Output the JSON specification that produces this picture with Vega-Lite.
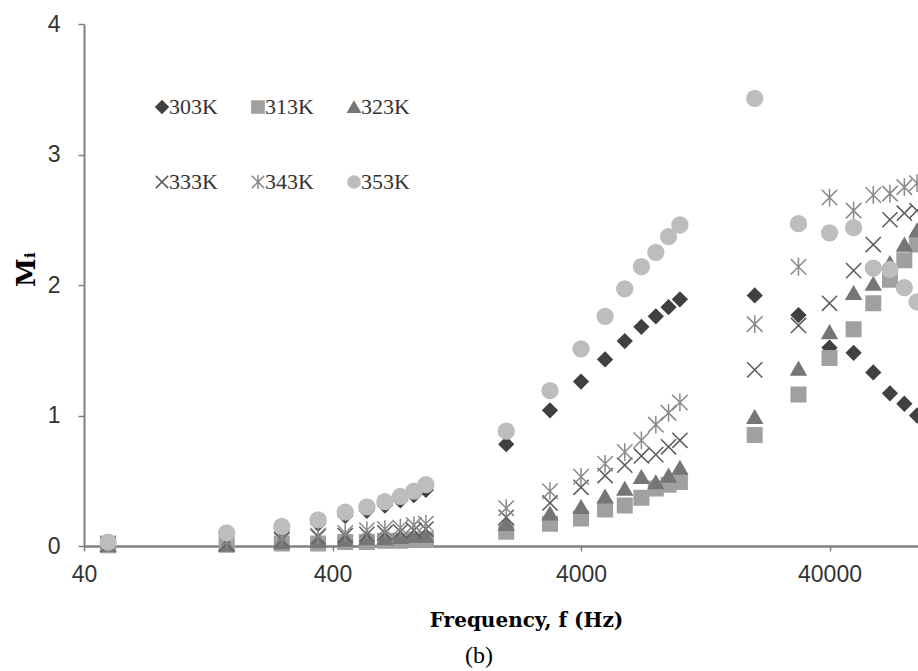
{
  "$schema": "https://vega.github.io/schema/vega-lite/v6.json",
  "width": 834,
  "height": 522,
  "autosize": {"type": "none"},
  "padding": {"left": 84, "top": 24, "right": 0, "bottom": 125},
  "background": "white",
  "config": {
    "view": {"stroke": null},
    "axis": {"grid": false, "labelFlush": false, "labelOverlap": false},
    "legend": {"orient": "none", "legendX": 67, "legendY": 72, "direction": "horizontal", "columns": 3, "labelFont": "Liberation Serif", "labelFontSize": 22, "labelColor": "#333333", "symbolSize": 150, "columnPadding": 29, "rowPadding": 53, "labelOffset": -4, "symbolStrokeWidth": 1.5}
  },
  "title": {
    "text": "(b)",
    "orient": "bottom",
    "anchor": "start",
    "frame": "group",
    "dx": 381,
    "offset": 14,
    "font": "Liberation Serif",
    "fontSize": 24,
    "fontWeight": "normal",
    "color": "#000000"
  },
  "layer": [
    {
      "mark": {"type": "rule", "color": "#555555", "strokeWidth": 2},
      "encoding": {"y": {"datum": 4, "type": "quantitative"}}
    },
    {
      "data": {
        "values": [
          {"f":50,"M":0.01,"T":"303K"},{"f":150,"M":0.03,"T":"303K"},{"f":250,"M":0.10,"T":"303K"},{"f":350,"M":0.17,"T":"303K"},{"f":450,"M":0.23,"T":"303K"},{"f":550,"M":0.27,"T":"303K"},{"f":650,"M":0.31,"T":"303K"},{"f":750,"M":0.35,"T":"303K"},{"f":850,"M":0.39,"T":"303K"},{"f":950,"M":0.43,"T":"303K"},
          {"f":2000,"M":0.78,"T":"303K"},{"f":3000,"M":1.04,"T":"303K"},{"f":4000,"M":1.26,"T":"303K"},{"f":5000,"M":1.43,"T":"303K"},{"f":6000,"M":1.57,"T":"303K"},{"f":7000,"M":1.68,"T":"303K"},{"f":8000,"M":1.76,"T":"303K"},{"f":9000,"M":1.83,"T":"303K"},{"f":10000,"M":1.89,"T":"303K"},
          {"f":20000,"M":1.92,"T":"303K"},{"f":30000,"M":1.77,"T":"303K"},{"f":40000,"M":1.52,"T":"303K"},{"f":50000,"M":1.48,"T":"303K"},{"f":60000,"M":1.33,"T":"303K"},{"f":70000,"M":1.17,"T":"303K"},{"f":80000,"M":1.09,"T":"303K"},{"f":90000,"M":1.00,"T":"303K"},

          {"f":50,"M":0.005,"T":"313K"},{"f":150,"M":0.01,"T":"313K"},{"f":250,"M":0.02,"T":"313K"},{"f":350,"M":0.02,"T":"313K"},{"f":450,"M":0.03,"T":"313K"},{"f":550,"M":0.03,"T":"313K"},{"f":650,"M":0.04,"T":"313K"},{"f":750,"M":0.04,"T":"313K"},{"f":850,"M":0.05,"T":"313K"},{"f":950,"M":0.05,"T":"313K"},
          {"f":2000,"M":0.11,"T":"313K"},{"f":3000,"M":0.17,"T":"313K"},{"f":4000,"M":0.21,"T":"313K"},{"f":5000,"M":0.28,"T":"313K"},{"f":6000,"M":0.31,"T":"313K"},{"f":7000,"M":0.37,"T":"313K"},{"f":8000,"M":0.44,"T":"313K"},{"f":9000,"M":0.47,"T":"313K"},{"f":10000,"M":0.49,"T":"313K"},
          {"f":20000,"M":0.85,"T":"313K"},{"f":30000,"M":1.16,"T":"313K"},{"f":40000,"M":1.44,"T":"313K"},{"f":50000,"M":1.66,"T":"313K"},{"f":60000,"M":1.86,"T":"313K"},{"f":70000,"M":2.04,"T":"313K"},{"f":80000,"M":2.19,"T":"313K"},{"f":90000,"M":2.31,"T":"313K"},

          {"f":50,"M":0.01,"T":"323K"},{"f":150,"M":0.01,"T":"323K"},{"f":250,"M":0.03,"T":"323K"},{"f":350,"M":0.04,"T":"323K"},{"f":450,"M":0.05,"T":"323K"},{"f":550,"M":0.06,"T":"323K"},{"f":650,"M":0.06,"T":"323K"},{"f":750,"M":0.07,"T":"323K"},{"f":850,"M":0.08,"T":"323K"},{"f":950,"M":0.08,"T":"323K"},
          {"f":2000,"M":0.17,"T":"323K"},{"f":3000,"M":0.25,"T":"323K"},{"f":4000,"M":0.30,"T":"323K"},{"f":5000,"M":0.38,"T":"323K"},{"f":6000,"M":0.44,"T":"323K"},{"f":7000,"M":0.53,"T":"323K"},{"f":8000,"M":0.49,"T":"323K"},{"f":9000,"M":0.54,"T":"323K"},{"f":10000,"M":0.60,"T":"323K"},
          {"f":20000,"M":0.99,"T":"323K"},{"f":30000,"M":1.36,"T":"323K"},{"f":40000,"M":1.64,"T":"323K"},{"f":50000,"M":1.94,"T":"323K"},{"f":60000,"M":2.01,"T":"323K"},{"f":70000,"M":2.17,"T":"323K"},{"f":80000,"M":2.31,"T":"323K"},{"f":90000,"M":2.42,"T":"323K"},

          {"f":50,"M":0.01,"T":"333K"},{"f":150,"M":0.02,"T":"333K"},{"f":250,"M":0.05,"T":"333K"},{"f":350,"M":0.07,"T":"333K"},{"f":450,"M":0.08,"T":"333K"},{"f":550,"M":0.09,"T":"333K"},{"f":650,"M":0.10,"T":"333K"},{"f":750,"M":0.11,"T":"333K"},{"f":850,"M":0.12,"T":"333K"},{"f":950,"M":0.13,"T":"333K"},
          {"f":2000,"M":0.22,"T":"333K"},{"f":3000,"M":0.33,"T":"333K"},{"f":4000,"M":0.45,"T":"333K"},{"f":5000,"M":0.54,"T":"333K"},{"f":6000,"M":0.62,"T":"333K"},{"f":7000,"M":0.69,"T":"333K"},{"f":8000,"M":0.70,"T":"333K"},{"f":9000,"M":0.76,"T":"333K"},{"f":10000,"M":0.81,"T":"333K"},
          {"f":20000,"M":1.35,"T":"333K"},{"f":30000,"M":1.69,"T":"333K"},{"f":40000,"M":1.86,"T":"333K"},{"f":50000,"M":2.11,"T":"333K"},{"f":60000,"M":2.31,"T":"333K"},{"f":70000,"M":2.50,"T":"333K"},{"f":80000,"M":2.55,"T":"333K"},{"f":90000,"M":2.57,"T":"333K"},

          {"f":50,"M":0.02,"T":"343K"},{"f":150,"M":0.03,"T":"343K"},{"f":250,"M":0.06,"T":"343K"},{"f":350,"M":0.08,"T":"343K"},{"f":450,"M":0.10,"T":"343K"},{"f":550,"M":0.12,"T":"343K"},{"f":650,"M":0.13,"T":"343K"},{"f":750,"M":0.14,"T":"343K"},{"f":850,"M":0.16,"T":"343K"},{"f":950,"M":0.17,"T":"343K"},
          {"f":2000,"M":0.29,"T":"343K"},{"f":3000,"M":0.42,"T":"343K"},{"f":4000,"M":0.53,"T":"343K"},{"f":5000,"M":0.63,"T":"343K"},{"f":6000,"M":0.72,"T":"343K"},{"f":7000,"M":0.81,"T":"343K"},{"f":8000,"M":0.93,"T":"343K"},{"f":9000,"M":1.02,"T":"343K"},{"f":10000,"M":1.10,"T":"343K"},
          {"f":20000,"M":1.70,"T":"343K"},{"f":30000,"M":2.14,"T":"343K"},{"f":40000,"M":2.67,"T":"343K"},{"f":50000,"M":2.57,"T":"343K"},{"f":60000,"M":2.69,"T":"343K"},{"f":70000,"M":2.70,"T":"343K"},{"f":80000,"M":2.75,"T":"343K"},{"f":90000,"M":2.78,"T":"343K"},

          {"f":50,"M":0.03,"T":"353K"},{"f":150,"M":0.10,"T":"353K"},{"f":250,"M":0.15,"T":"353K"},{"f":350,"M":0.20,"T":"353K"},{"f":450,"M":0.26,"T":"353K"},{"f":550,"M":0.30,"T":"353K"},{"f":650,"M":0.34,"T":"353K"},{"f":750,"M":0.38,"T":"353K"},{"f":850,"M":0.42,"T":"353K"},{"f":950,"M":0.47,"T":"353K"},
          {"f":2000,"M":0.88,"T":"353K"},{"f":3000,"M":1.19,"T":"353K"},{"f":4000,"M":1.51,"T":"353K"},{"f":5000,"M":1.76,"T":"353K"},{"f":6000,"M":1.97,"T":"353K"},{"f":7000,"M":2.14,"T":"353K"},{"f":8000,"M":2.25,"T":"353K"},{"f":9000,"M":2.37,"T":"353K"},{"f":10000,"M":2.46,"T":"353K"},
          {"f":20000,"M":3.43,"T":"353K"},{"f":30000,"M":2.47,"T":"353K"},{"f":40000,"M":2.40,"T":"353K"},{"f":50000,"M":2.44,"T":"353K"},{"f":60000,"M":2.13,"T":"353K"},{"f":70000,"M":2.12,"T":"353K"},{"f":80000,"M":1.98,"T":"353K"},{"f":90000,"M":1.87,"T":"353K"}
        ]
      },
      "mark": {"type": "point", "filled": true, "opacity": 1, "strokeWidth": 1.5},
      "encoding": {
        "x": {
          "field": "f",
          "type": "quantitative",
          "scale": {"type": "log", "domain": [40, 90800], "nice": false},
          "axis": {
            "values": [40, 400, 4000, 40000],
            "format": "d",
            "title": "Frequency, f (Hz)",
            "titleFont": "DejaVu Serif",
            "titleFontSize": 20,
            "titleFontWeight": "bold",
            "titleColor": "#000000",
            "titleX": 442,
            "titleY": 74,
            "titleBaseline": "middle",
            "titleAlign": "center",
            "labelFont": "Liberation Sans",
            "labelFontSize": 23,
            "labelColor": "#333333",
            "labelPadding": 12,
            "domainColor": "#808080",
            "domainWidth": 2.5,
            "tickColor": "#808080",
            "tickWidth": 1.5,
            "tickSize": 5
          }
        },
        "y": {
          "field": "M",
          "type": "quantitative",
          "scale": {"domain": [0, 4], "nice": false},
          "axis": {
            "values": [0, 1, 2, 3, 4],
            "format": "d",
            "title": "Mᵢ",
            "titleFont": "DejaVu Serif",
            "titleFontSize": 26,
            "titleFontWeight": "bold",
            "titleColor": "#000000",
            "titleX": -58,
            "titleY": 245,
            "titleBaseline": "middle",
            "titleAlign": "center",
            "titleAngle": 270,
            "labelFont": "Liberation Sans",
            "labelFontSize": 23,
            "labelColor": "#333333",
            "labelPadding": 18,
            "domainColor": "#808080",
            "domainWidth": 2,
            "tickColor": "#808080",
            "tickWidth": 1.5,
            "tickSize": 6
          }
        },
        "fill": {
          "field": "T",
          "type": "nominal",
          "title": null,
          "scale": {
            "domain": ["303K", "313K", "323K", "333K", "343K", "353K"],
            "range": ["#404040", "#a0a0a0", "#767676", "#5a5a5a", "#8a8a8a", "#bdbdbd"]
          }
        },
        "stroke": {
          "field": "T",
          "type": "nominal",
          "title": null,
          "scale": {
            "domain": ["303K", "313K", "323K", "333K", "343K", "353K"],
            "range": ["#404040", "#a0a0a0", "#767676", "#5a5a5a", "#8a8a8a", "#bdbdbd"]
          }
        },
        "shape": {
          "field": "T",
          "type": "nominal",
          "title": null,
          "scale": {
            "domain": ["303K", "313K", "323K", "333K", "343K", "353K"],
            "range": ["diamond", "square", "triangle-up", "M-1,-1L1,1M-1,1L1,-1", "M-1,-1L1,1M-1,1L1,-1M0,-1.15L0,1.15", "circle"]
          }
        },
        "size": {
          "field": "T",
          "type": "nominal",
          "scale": {
            "domain": ["353K", "343K", "333K", "323K", "313K", "303K"],
            "range": [250, 200, 180, 200, 210, 180]
          },
          "legend": null
        }
      }
    }
  ]
}
